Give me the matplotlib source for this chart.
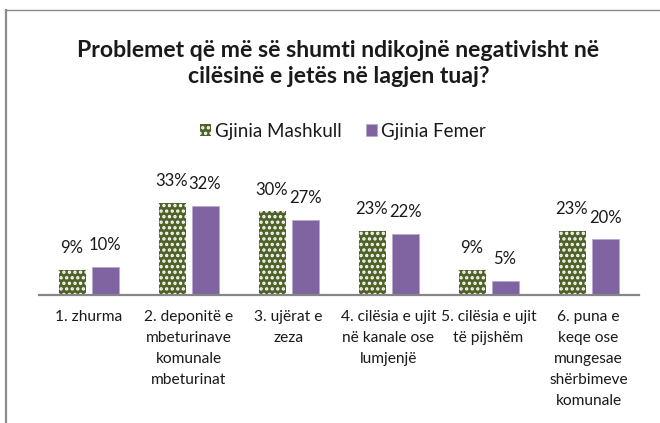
import matplotlib
matplotlib.use("Agg")
import matplotlib.pyplot as plt
from matplotlib.lines import Line2D
import numpy as np


CATEGORIES = [
    "1. zhurma",
    "2. deponitë e\nmbeturinave\nkomunale\nmbeturinat",
    "3. ujërat e\nzeza",
    "4. cilësia e ujit\nnë kanale ose\nlumjenjë",
    "5. cilësia e ujit\ntë pijshëm",
    "6. puna e\nkeqe ose\nmungesae\nshërbimeve\nkomunale",
]
MALE = [9, 33, 30, 23, 9, 23]
FEMALE = [10, 32, 27, 22, 5, 20]
SERIES_NAMES = ["Gjinia Mashkull", "Gjinia Femer"]
TITLE = "Problemet që më së shumti ndikojnë negativisht në\ncilësinë e jetës në lagjen tuaj?"

GREEN = "#4F6228"
PURPLE = "#8064A2"
GREY = "#868686"

W, H = 660, 423


def fx(px):
    return px / W


def fy(px):
    return 1 - px / H


def main():
    plt.rcParams["font.family"] = ["Lato", "DejaVu Sans"]
    plt.rcParams["hatch.linewidth"] = 1.6
    plt.rcParams["hatch.color"] = "white"

    fig = plt.figure(figsize=(W / 100, H / 100), dpi=100)
    fig.patch.set_facecolor("white")

    # chart frame (cropped on right and bottom)
    fig.add_artist(Line2D([fx(6), fx(659)], [fy(10.5), fy(10.5)], color="#8c8c8c", lw=1.0))
    fig.add_artist(Line2D([fx(6.5), fx(6.5)], [fy(10.5), 0], color="#8c8c8c", lw=1.6))

    ax = fig.add_axes([fx(38.5), fy(295), 600 / W, 111.6 / H])
    x = np.arange(len(CATEGORIES))
    width = 0.27
    off = 0.165

    male_bars = ax.bar(x - off, MALE, width, color=GREEN, hatch="...", edgecolor="white",
                       linewidth=0, label=SERIES_NAMES[0])
    female_bars = ax.bar(x + off, FEMALE, width, color=PURPLE, edgecolor="#b9a8cf",
                         linewidth=0.6, label=SERIES_NAMES[1])

    for bars, values in ((male_bars, MALE), (female_bars, FEMALE)):
        for bar, v in zip(bars, values):
            ax.annotate(f"{v}%", (bar.get_x() + bar.get_width() / 2, v),
                        xytext=(0, 12), textcoords="offset points",
                        ha="center", va="baseline", fontsize=12, color="#1a1a1a")

    ax.set_xlim(-0.5, len(CATEGORIES) - 0.5)
    ax.set_ylim(0, 40)
    ax.set_yticks([])
    ax.set_xticks(x, CATEGORIES, fontsize=11.2, color="#1a1a1a", linespacing=1.64)
    ax.tick_params(axis="x", length=0, pad=11)
    for side in ("top", "left", "right"):
        ax.spines[side].set_visible(False)
    ax.spines["bottom"].set_color(GREY)
    ax.spines["bottom"].set_linewidth(1.6)
    ax.patch.set_alpha(0)

    # baseline of a multi-line text is the last line
    fig.text(fx(338.5), fy(83), TITLE, ha="center", va="baseline", fontsize=16.6,
             fontweight="bold", color="#1a1a1a", linespacing=1.32)

    fig.legend(handles=[male_bars, female_bars], labels=SERIES_NAMES, loc="center",
               bbox_to_anchor=(fx(343), fy(131.5)), ncol=2, frameon=False, fontsize=13.5,
               handlelength=0.6, handleheight=0.6, handletextpad=0.2, columnspacing=1.3,
               borderpad=0, labelcolor="#1a1a1a")

    fig.savefig("out.png", dpi=100)


if __name__ == "__main__":
    main()
